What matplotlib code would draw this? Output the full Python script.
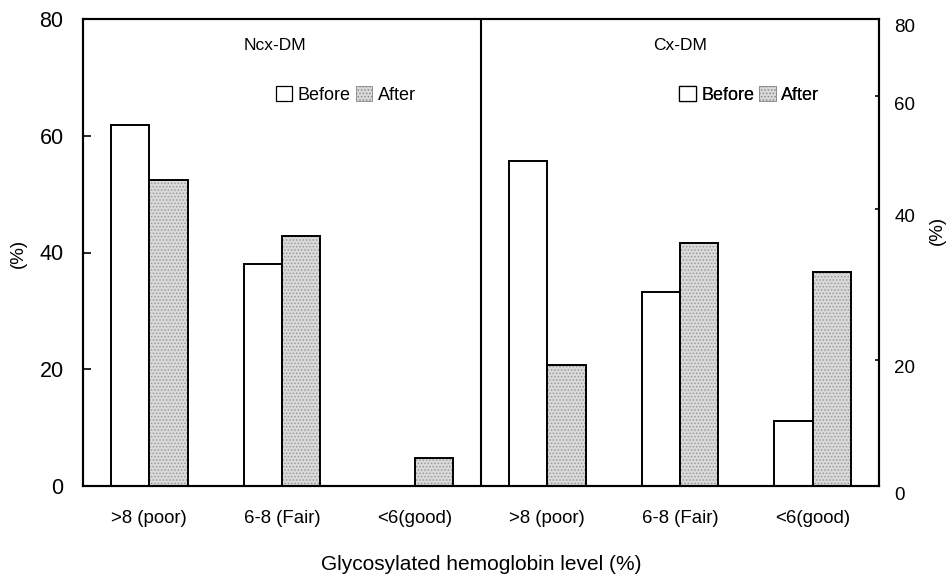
import matplotlib
matplotlib.use("Agg")
import matplotlib.pyplot as plt
from matplotlib.patches import Patch
import matplotlib.transforms as mtransforms
import numpy as np

plt.rcParams['font.family'] = ['Liberation Sans', 'DejaVu Sans']
plt.rcParams['hatch.linewidth'] = 0.7

# ---- data ----
categories = [">8 (poor)", "6-8 (Fair)", "<6(good)"]
panels = ["Ncx-DM", "Cx-DM"]
ncx_before = [61.9, 38.1, 0.0]
ncx_after = [52.4, 42.9, 4.8]
cx_before = [55.6, 33.3, 11.1]
cx_after = [20.8, 41.7, 36.7]
left_ticks = [0, 20, 40, 60, 80]
right_tick_labels = ["0", "20", "40", "60", "80"]
right_tick_pos = [0, 21.6, 47.5, 66.8, 80]
xlabel = "Glycosylated hemoglobin level (%)"
ylabel = "(%)"
series_names = ["Before", "After"]

before = ncx_before + cx_before
after = ncx_after + cx_after
xcats = categories + categories

fig = plt.figure(figsize=(9.5, 5.75), dpi=100)
W, H = 950, 575
L, R, T, B = 83, 879, 19, 486
ax = fig.add_axes([L / W, 1 - B / H, (R - L) / W, (B - T) / H])

x = np.arange(len(before)) + 0.5
bw = 0.29
after_face = '#dadada'
after_hatch = '#9a9a9a'

ax.bar(x - bw / 2, before, width=bw, facecolor='white', edgecolor='black', linewidth=1.4, zorder=2)
ax.bar(x + bw / 2, after, width=bw, facecolor=after_face, edgecolor=after_hatch, hatch='.....', linewidth=0, zorder=2)
ax.bar(x + bw / 2, after, width=bw, facecolor='none', edgecolor='black', linewidth=1.4, zorder=3)

ax.set_xlim(0, 6)
ax.set_ylim(0, 80)
ax.axvline(3, color='black', linewidth=1.5, zorder=4)

for s in ax.spines.values():
    s.set_linewidth(1.5)

ax.set_yticks(left_ticks)
ax.set_yticklabels([str(t) for t in left_ticks], fontsize=15.5)
ax.tick_params(axis='y', direction='in', length=6, width=1.2, pad=14)
ax.set_xticks(x)
ax.set_xticklabels(xcats, fontsize=13.4)
ax.tick_params(axis='x', length=0, pad=17)

ax2 = ax.twinx()
ax2.set_ylim(0, 80)
ax2.set_yticks(right_tick_pos)
ax2.set_yticklabels(right_tick_labels, fontsize=13.5)
ax2.tick_params(axis='y', direction='in', length=3, width=1.2, pad=11)
for s in ax2.spines.values():
    s.set_linewidth(1.5)
offset = mtransforms.ScaledTranslation(0, -7 / 100, fig.dpi_scale_trans)
for lab in ax2.get_yticklabels():
    lab.set_transform(lab.get_transform() + offset)

# panel titles
ax.text(0.241, 0.944, panels[0], transform=ax.transAxes, ha='center', va='center', fontsize=12.5)
ax.text(0.750, 0.944, panels[1], transform=ax.transAxes, ha='center', va='center', fontsize=12.5)

# legends
handles = [Patch(facecolor='white', edgecolor='black', linewidth=0.9),
           Patch(facecolor=after_face, edgecolor='#888888', hatch='.....', linewidth=0.6)]
leg1 = ax.legend(handles, series_names, loc='center', bbox_to_anchor=(0.33, 0.837),
                 ncol=2, frameon=False, fontsize=13, handlelength=0.9, handleheight=0.9,
                 handletextpad=0.3, columnspacing=0.3, borderpad=0)
ax.add_artist(leg1)
leg2 = ax.legend(handles, series_names, loc='center', bbox_to_anchor=(0.837, 0.837),
                 ncol=2, frameon=False, fontsize=13, handlelength=0.9, handleheight=0.9,
                 handletextpad=0.3, columnspacing=0.3, borderpad=0)
ax.add_artist(leg2)

fig.text(481 / W, 1 - 564 / H, xlabel, ha='center', va='center', fontsize=15)
fig.text(18 / W, 1 - 253 / H, ylabel, ha='center', va='center', fontsize=13.5, rotation=90)
fig.text(937 / W, 1 - 230 / H, ylabel, ha='center', va='center', fontsize=13.5, rotation=90)

fig.savefig("out.png", dpi=100)
